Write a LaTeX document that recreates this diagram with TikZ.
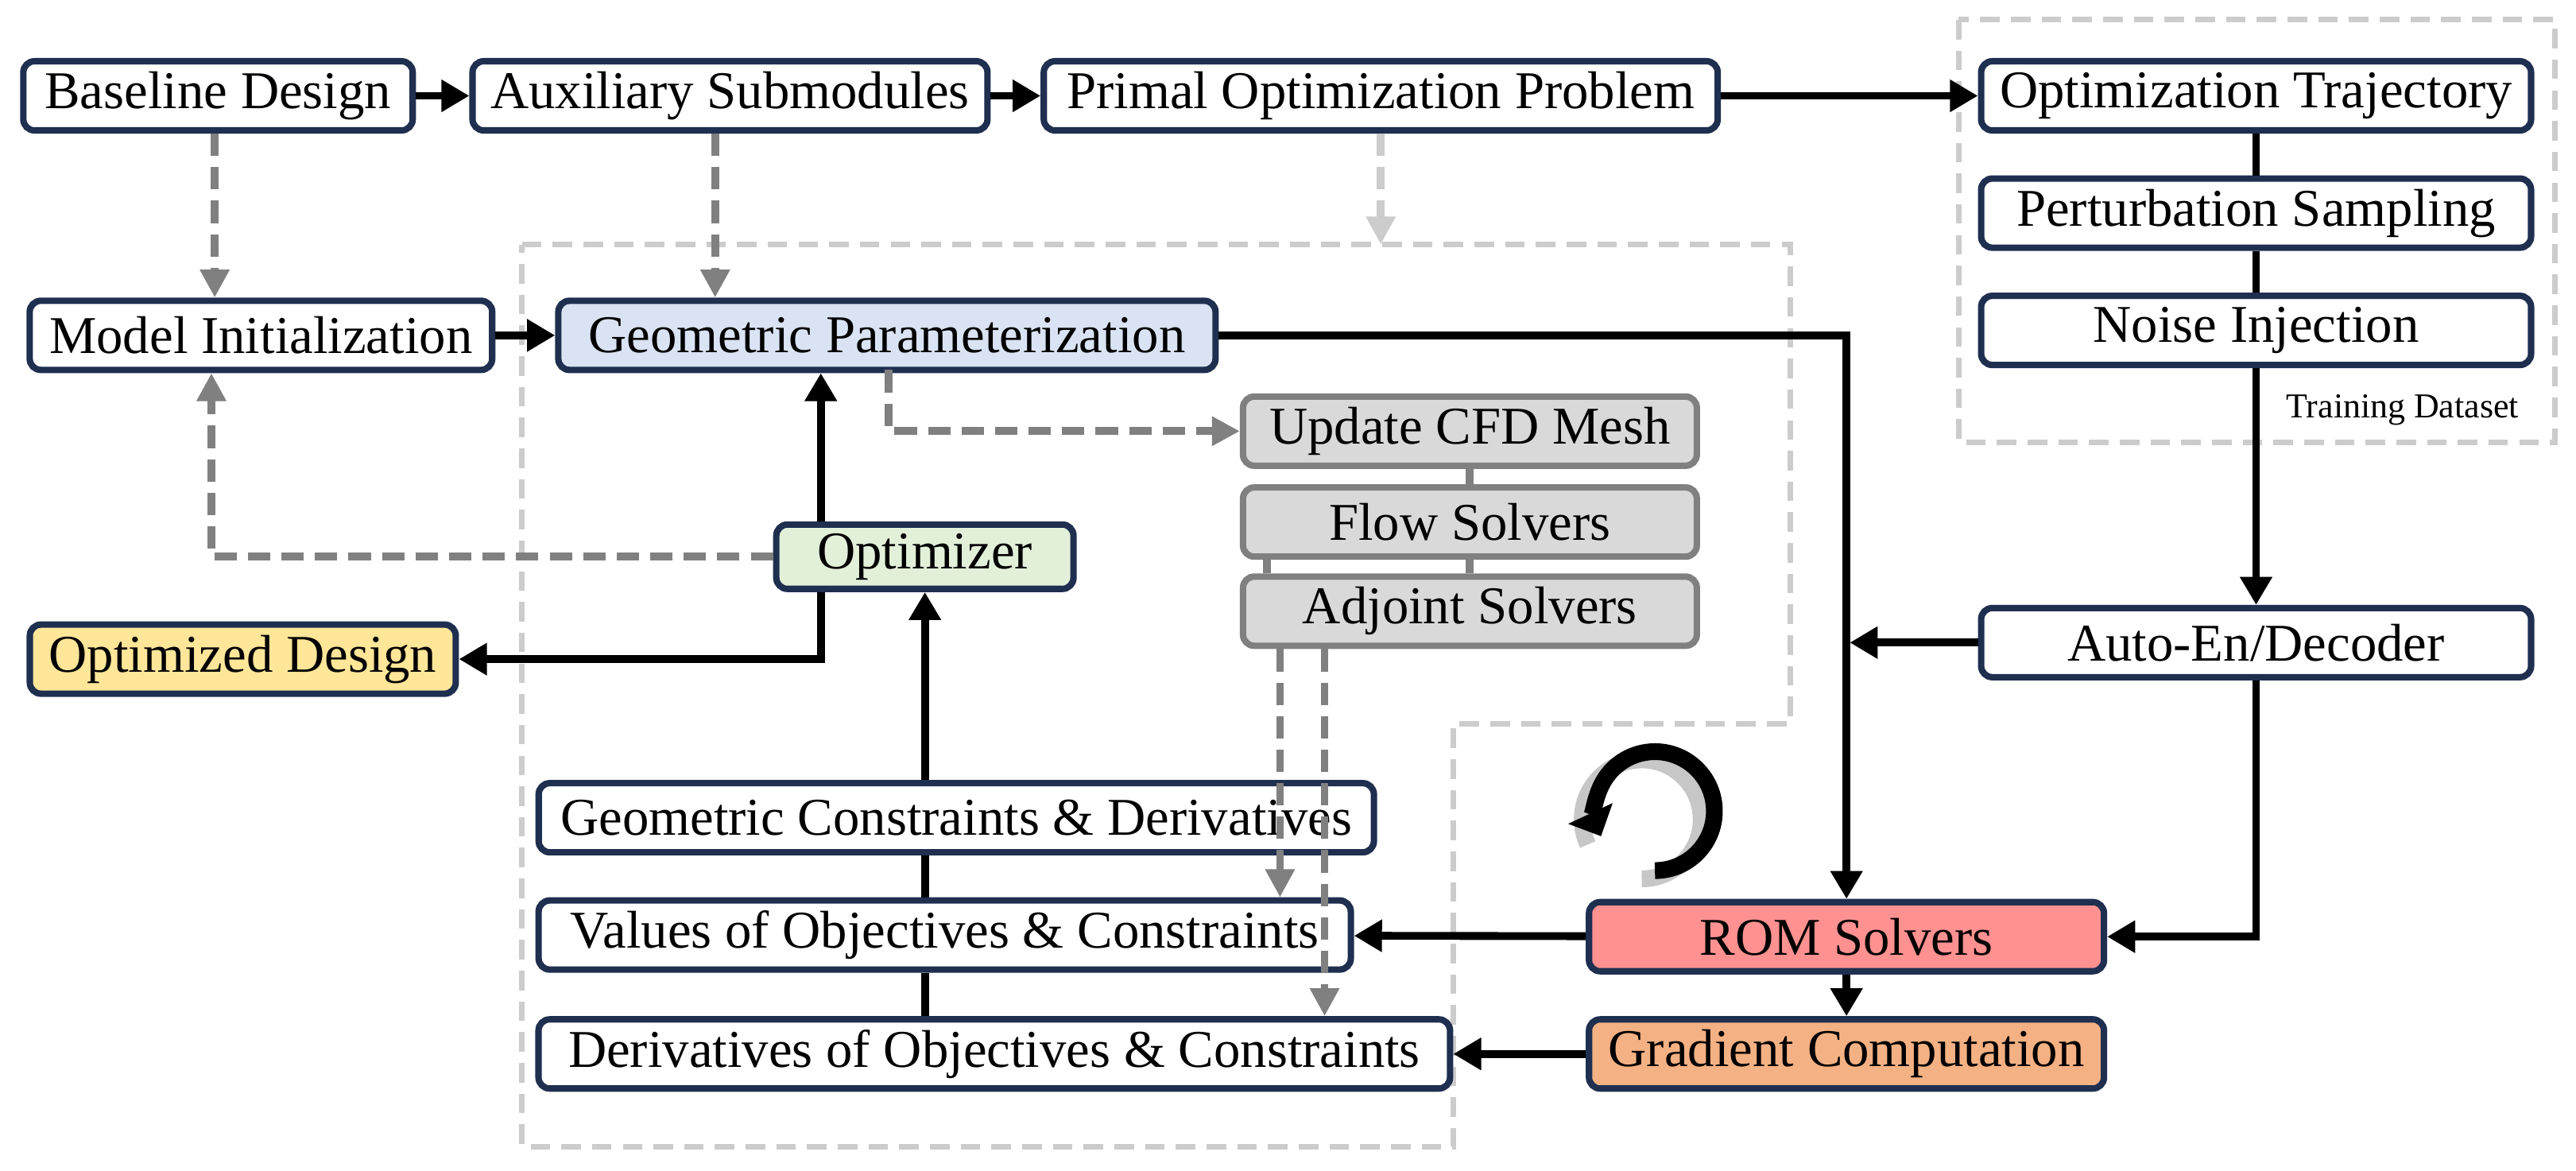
\documentclass[tikz,border=0pt]{standalone}
\usepackage{fontspec}
\setmainfont{Liberation Serif}
\usepackage{tikz}
\usetikzlibrary{arrows.meta}
\definecolor{navy}{HTML}{1F2F50}
\definecolor{geoblue}{HTML}{DAE3F3}
\definecolor{optgreen}{HTML}{E2F0D9}
\definecolor{outyellow}{HTML}{FFE699}
\definecolor{romred}{HTML}{FF9191}
\definecolor{gradorange}{HTML}{F4B183}
\definecolor{cfdgray}{HTML}{D9D9D9}
\tikzset{
	blk/.style={draw=navy,line width=2.3pt,rounded corners=4pt,fill=white,minimum height=0.87cm,inner sep=0pt,font=\fontsize{19}{19}\selectfont},
	cfd/.style={blk,draw=gray,fill=cfdgray},
	link/.style={line width=2.8pt},
	flow/.style={link,-{Triangle[length=10pt,width=11pt]}},
	hint/.style={line width=2.8pt,gray,dash pattern=on 8pt off 4pt,-{Triangle[length=10pt,width=10pt]}},
	zone/.style={line width=2pt,black!20,dash pattern=on 7pt off 4pt},
}
\begin{document}
\begin{tikzpicture}[x=0.02078cm,y=-0.02078cm]
\useasboundingbox (0,0) rectangle (1559.7,708.4);
% zones
\draw [zone] (1186,12) rectangle (1547,268);
\draw [zone] (316,148)--(1084,148)--(1084,438)--(880,438)--(880,694)--(316,694)--cycle;
\node [anchor=east,font=\fontsize{12.5}{12.5}\selectfont] (dataset) at (1531,248) {Training Dataset};

% top row
\node [blk,minimum width=4.90cm] (base) at (132,58) {Baseline Design};
\node [blk,minimum width=6.48cm] (aux) at (442,58) {Auxiliary Submodules};
\node [blk,minimum width=8.48cm] (primal) at (836,58) {Primal Optimization Problem};
\node [blk,minimum width=6.92cm] (traj) at (1366,58) {Optimization Trajectory};
\node [blk,minimum width=6.92cm] (pert) at (1366,129) {Perturbation Sampling};
\node [blk,minimum width=6.92cm] (noise) at (1366,200) {Noise Injection};
\node [blk,minimum width=6.92cm] (auto) at (1366,389) {Auto-En/Decoder};

% optimization loop
\node [blk,minimum width=5.82cm] (init) at (158,203) {Model Initialization};
\node [blk,fill=geoblue,minimum width=8.27cm] (geo) at (537,203) {Geometric Parameterization};
\node [cfd,minimum width=5.71cm] (mesh) at (890,261) {Update CFD Mesh};
\node [cfd,minimum width=5.71cm] (flowsol) at (890,316) {Flow Solvers};
\node [cfd,minimum width=5.71cm] (adj) at (890,370) {Adjoint Solvers};
\node [blk,fill=optgreen,minimum width=3.74cm,minimum height=0.81cm] (opt) at (560,337) {Optimizer};
\node [blk,fill=outyellow,minimum width=5.36cm] (final) at (147,399) {Optimized Design};
\node [blk,minimum width=10.51cm] (gcon) at (579,495) {Geometric Constraints \& Derivatives};
\node [blk,minimum width=10.22cm] (vals) at (572,566) {Values of Objectives \& Constraints};
\node [blk,minimum width=11.47cm] (derv) at (602,638) {Derivatives of Objectives \& Constraints};
\node [blk,fill=romred,minimum width=6.48cm] (rom) at (1118,567) {ROM Solvers};
\node [blk,fill=gradorange,minimum width=6.48cm] (grad) at (1118,638) {Gradient Computation};

% black connectors
\draw [flow] (base)--(aux);
\draw [flow] (aux)--(primal);
\draw [flow] (primal)--(traj);
\draw [flow] (init)--(geo);
\draw [link] (traj)--(pert);
\draw [link] (pert)--(noise);
\draw [flow] (noise)--(auto);
\draw [flow] (geo.east)-|(rom.north);
\draw [flow] (auto.west)--(1120,389);
\draw [flow] (auto.south)|-(rom.east);
\draw [flow] (rom)--(grad);
\draw [flow] (rom)--(vals);
\draw [flow] (grad)--(derv);
\draw [flow] (opt.north-|497,0)--(geo.south-|497,0);
\draw [flow] (opt.south-|497,0)|-(final.east);
\draw [flow] (gcon.north-|opt)--(opt.south);
\draw [link] (gcon.south-|opt)--(vals.north-|opt);
\draw [link] (vals.south-|opt)--(derv.north-|opt);

% gray connectors
\draw [hint] (base.south-|130,0)--(init.north-|130,0);
\draw [hint] (aux.south-|433,0)--(geo.north-|433,0);
\draw [hint,black!20] (primal.south)--(836,148);
\draw [hint] (538,224)|-(mesh.west);
\draw [hint] (opt.west)-|(init.south-|128,0);
\draw [line width=2.8pt,gray] (mesh)--(flowsol);
\draw [line width=2.8pt,gray] (flowsol.south-|767,0)--(adj.north-|767,0);
\draw [line width=2.8pt,gray] (flowsol)--(adj);
\draw [hint] (adj.south-|775,0)--(vals.north-|775,0);
\draw [hint] (adj.south-|802,0)--(derv.north-|802,0);

% refresh mark
\coordinate (turn) at (1002,491);
\draw [line width=6pt,black!22] ([shift={(-8,5)}]turn) ++(90:36) arc (90:-205:36);
\draw [line width=6pt,-{Triangle[length=9pt,width=17pt]}] (turn) ++(90:36) arc (90:-205:36);
\end{tikzpicture}
\end{document}
